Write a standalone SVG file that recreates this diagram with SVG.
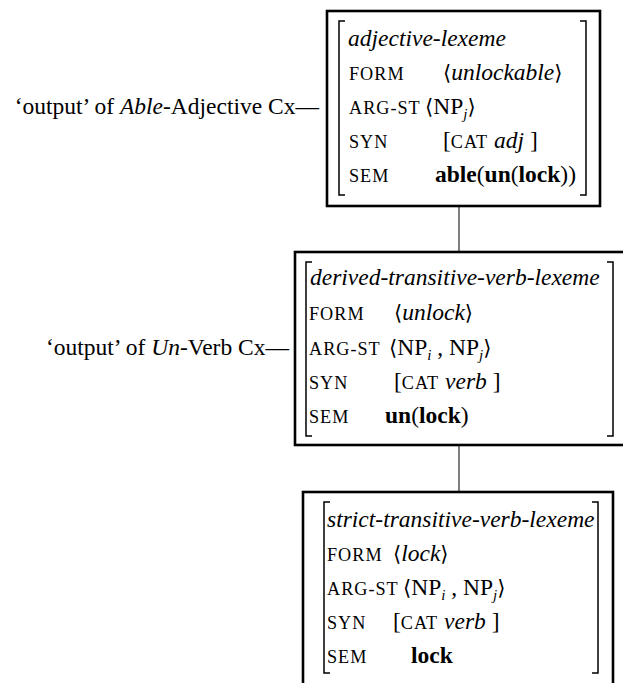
<svg xmlns="http://www.w3.org/2000/svg" width="623" height="683" viewBox="0 0 623 683">
  <style>
    text { font-family: "Liberation Serif", "DejaVu Serif", serif; font-size: 23.5px; fill: #000; }
    .sc { font-size: 18.2px; letter-spacing: 1px; }
    .it { font-style: italic; }
    .bf { font-weight: bold; }
    .sub { font-size: 15px; font-style: italic; }
    .ang { font-family: "DejaVu Serif", "Liberation Serif", serif; font-size: 21px; }
    .frame { fill: #fff; stroke: #000; stroke-width: 2.6; }
    .brk { fill: none; stroke: #000; stroke-width: 1.5; }
    .link { stroke: #000; stroke-width: 1; fill: none; }
  </style>

  <!-- connectors between the feature structures -->
  <g id="connectors">
    <line class="link" x1="459" y1="206" x2="459" y2="252"/>
    <line class="link" x1="459" y1="445" x2="459" y2="492"/>
  </g>

  <!-- adjective-lexeme -->
  <g id="node-adjective">
    <rect class="frame" x="327" y="11" width="273" height="195"/>
    <path class="brk" d="M345,21 H339 V195 H345"/>
    <path class="brk" d="M580,21 H586 V195 H580"/>
    <text class="it" x="348" y="46">adjective-lexeme</text>
    <text class="sc" x="349" y="80">FORM</text>
    <text x="443" y="80"><tspan class="ang">⟨</tspan><tspan class="it">unlockable</tspan><tspan class="ang">⟩</tspan></text>
    <text class="sc" x="349" y="114">ARG-ST</text>
    <text x="425" y="114"><tspan class="ang">⟨</tspan>NP<tspan class="sub" dy="5">j</tspan><tspan class="ang" dy="-5">⟩</tspan></text>
    <text class="sc" x="349" y="148">SYN</text>
    <text x="443" y="148">[<tspan class="sc">CAT</tspan> <tspan class="it">adj</tspan> ]</text>
    <text class="sc" x="349" y="182">SEM</text>
    <text x="435" y="182"><tspan class="bf">able</tspan>(<tspan class="bf">un</tspan>(<tspan class="bf">lock</tspan>))</text>
  </g>
  <g id="label-able">
    <text x="319" y="114" text-anchor="end">‘output’ of <tspan class="it">Able</tspan>-Adjective Cx—</text>
  </g>

  <!-- derived-transitive-verb-lexeme -->
  <g id="node-derived">
    <rect class="frame" x="295" y="252" width="330" height="193"/>
    <path class="brk" d="M312,262 H306 V436 H312"/>
    <path class="brk" d="M607,262 H613 V436 H607"/>
    <text class="it" x="310" y="285">derived-transitive-verb-lexeme</text>
    <text class="sc" x="309" y="320">FORM</text>
    <text x="394" y="320"><tspan class="ang">⟨</tspan><tspan class="it">unlock</tspan><tspan class="ang">⟩</tspan></text>
    <text class="sc" x="309" y="355">ARG-ST</text>
    <text x="389" y="355"><tspan class="ang">⟨</tspan>NP<tspan class="sub" dy="5">i</tspan><tspan dy="-5"> , NP</tspan><tspan class="sub" dy="5">j</tspan><tspan class="ang" dy="-5">⟩</tspan></text>
    <text class="sc" x="309" y="389">SYN</text>
    <text x="394" y="389">[<tspan class="sc">CAT</tspan> <tspan class="it">verb</tspan> ]</text>
    <text class="sc" x="309" y="423">SEM</text>
    <text x="385" y="423"><tspan class="bf">un</tspan>(<tspan class="bf">lock</tspan>)</text>
  </g>
  <g id="label-un">
    <text x="289" y="355" text-anchor="end">‘output’ of <tspan class="it">Un</tspan>-Verb Cx—</text>
  </g>

  <!-- strict-transitive-verb-lexeme -->
  <g id="node-strict">
    <rect class="frame" x="303" y="492" width="310" height="195"/>
    <path class="brk" d="M330,502 H324 V673 H330"/>
    <path class="brk" d="M592,502 H598 V673 H592"/>
    <text class="it" x="327" y="527">strict-transitive-verb-lexeme</text>
    <text class="sc" x="327" y="561">FORM</text>
    <text x="393" y="561"><tspan class="ang">⟨</tspan><tspan class="it">lock</tspan><tspan class="ang">⟩</tspan></text>
    <text class="sc" x="327" y="595">ARG-ST</text>
    <text x="403" y="595"><tspan class="ang">⟨</tspan>NP<tspan class="sub" dy="5">i</tspan><tspan dy="-5"> , NP</tspan><tspan class="sub" dy="5">j</tspan><tspan class="ang" dy="-5">⟩</tspan></text>
    <text class="sc" x="327" y="629">SYN</text>
    <text x="393" y="629">[<tspan class="sc">CAT</tspan> <tspan class="it">verb</tspan> ]</text>
    <text class="sc" x="327" y="663">SEM</text>
    <text class="bf" x="411" y="663">lock</text>
  </g>
</svg>
